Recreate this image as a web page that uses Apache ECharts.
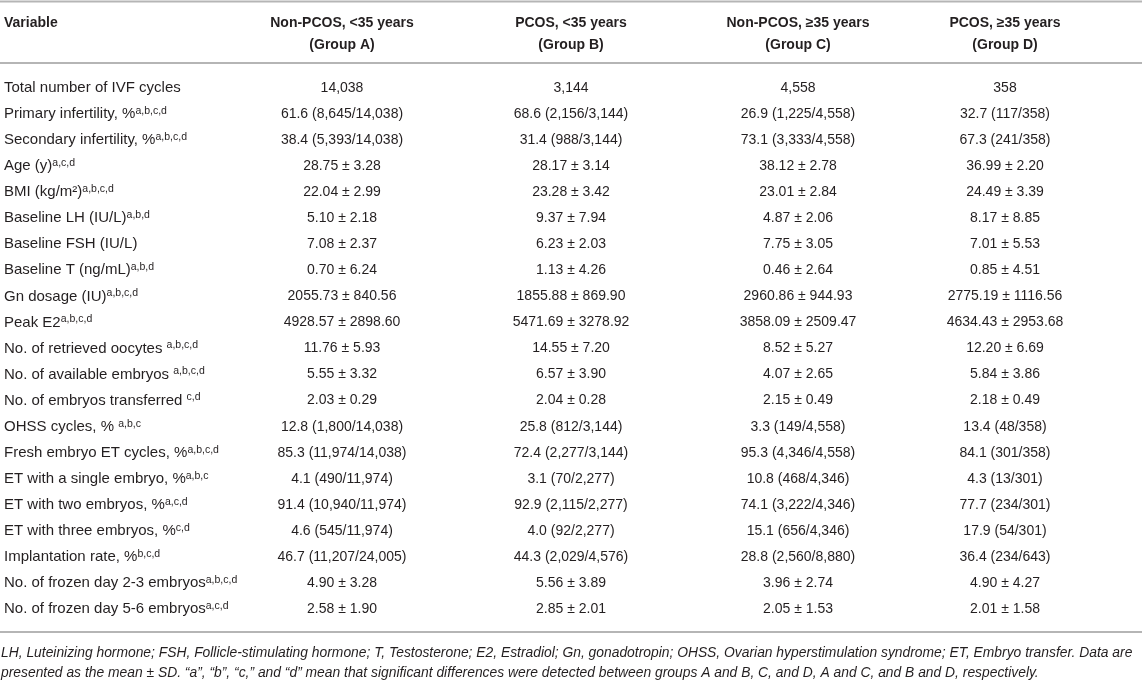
<!DOCTYPE html>
<html><head><meta charset="utf-8">
<script src="https://cdn.jsdelivr.net/npm/echarts@6/dist/echarts.min.js"></script>
<style>html,body{margin:0;padding:0;background:#fff}#c{width:1142px;height:683px}</style>
</head><body><div id="c"></div>
<script>
// ---- data ----
const variables = [
  'Total number of IVF cycles',
  'Primary infertility, %',
  'Secondary infertility, %',
  'Age (y)',
  'BMI (kg/m\u00b2)',
  'Baseline LH (IU/L)',
  'Baseline FSH (IU/L)',
  'Baseline T (ng/mL)',
  'Gn dosage (IU)',
  'Peak E2',
  'No. of retrieved oocytes ',
  'No. of available embryos ',
  'No. of embryos transferred ',
  'OHSS cycles, % ',
  'Fresh embryo ET cycles, %',
  'ET with a single embryo, %',
  'ET with two embryos, %',
  'ET with three embryos, %',
  'Implantation rate, %',
  'No. of frozen day 2-3 embryos',
  'No. of frozen day 5-6 embryos'
];
const superscripts = [
  '', 'a,b,c,d', 'a,b,c,d', 'a,c,d', 'a,b,c,d', 'a,b,d', '', 'a,b,d', 'a,b,c,d', 'a,b,c,d',
  'a,b,c,d', 'a,b,c,d', 'c,d', 'a,b,c', 'a,b,c,d', 'a,b,c', 'a,c,d', 'c,d', 'b,c,d', 'a,b,c,d', 'a,c,d'
];
const groupA = ['14,038','61.6 (8,645/14,038)','38.4 (5,393/14,038)','28.75 \u00b1 3.28','22.04 \u00b1 2.99','5.10 \u00b1 2.18','7.08 \u00b1 2.37','0.70 \u00b1 6.24','2055.73 \u00b1 840.56','4928.57 \u00b1 2898.60','11.76 \u00b1 5.93','5.55 \u00b1 3.32','2.03 \u00b1 0.29','12.8 (1,800/14,038)','85.3 (11,974/14,038)','4.1 (490/11,974)','91.4 (10,940/11,974)','4.6 (545/11,974)','46.7 (11,207/24,005)','4.90 \u00b1 3.28','2.58 \u00b1 1.90'];
const groupB = ['3,144','68.6 (2,156/3,144)','31.4 (988/3,144)','28.17 \u00b1 3.14','23.28 \u00b1 3.42','9.37 \u00b1 7.94','6.23 \u00b1 2.03','1.13 \u00b1 4.26','1855.88 \u00b1 869.90','5471.69 \u00b1 3278.92','14.55 \u00b1 7.20','6.57 \u00b1 3.90','2.04 \u00b1 0.28','25.8 (812/3,144)','72.4 (2,277/3,144)','3.1 (70/2,277)','92.9 (2,115/2,277)','4.0 (92/2,277)','44.3 (2,029/4,576)','5.56 \u00b1 3.89','2.85 \u00b1 2.01'];
const groupC = ['4,558','26.9 (1,225/4,558)','73.1 (3,333/4,558)','38.12 \u00b1 2.78','23.01 \u00b1 2.84','4.87 \u00b1 2.06','7.75 \u00b1 3.05','0.46 \u00b1 2.64','2960.86 \u00b1 944.93','3858.09 \u00b1 2509.47','8.52 \u00b1 5.27','4.07 \u00b1 2.65','2.15 \u00b1 0.49','3.3 (149/4,558)','95.3 (4,346/4,558)','10.8 (468/4,346)','74.1 (3,222/4,346)','15.1 (656/4,346)','28.8 (2,560/8,880)','3.96 \u00b1 2.74','2.05 \u00b1 1.53'];
const groupD = ['358','32.7 (117/358)','67.3 (241/358)','36.99 \u00b1 2.20','24.49 \u00b1 3.39','8.17 \u00b1 8.85','7.01 \u00b1 5.53','0.85 \u00b1 4.51','2775.19 \u00b1 1116.56','4634.43 \u00b1 2953.68','12.20 \u00b1 6.69','5.84 \u00b1 3.86','2.18 \u00b1 0.49','13.4 (48/358)','84.1 (301/358)','4.3 (13/301)','77.7 (234/301)','17.9 (54/301)','36.4 (234/643)','4.90 \u00b1 4.27','2.01 \u00b1 1.58'];
const columnHeaders = ['Variable', 'Non-PCOS, <35 years\n(Group A)', 'PCOS, <35 years\n(Group B)', 'Non-PCOS, \u226535 years\n(Group C)', 'PCOS, \u226535 years\n(Group D)'];
const footnoteLines = [
  'LH, Luteinizing hormone; FSH, Follicle-stimulating hormone; T, Testosterone; E2, Estradiol; Gn, gonadotropin; OHSS, Ovarian hyperstimulation syndrome; ET, Embryo transfer. Data are',
  'presented as the mean \u00b1 SD. \u201ca\u201d, \u201cb\u201d, \u201cc,\u201d and \u201cd\u201d mean that significant differences were detected between groups A and B, C, and D, A and C, and B and D, respectively.'
];

// ---- layout ----
const W = 1142, H = 683;
const colX = [4, 342, 571, 798, 1005];
const FONT = '"Liberation Sans", Arial, Helvetica, sans-serif';
const TEXT = '#231f20';
const RULE = '#b5b5b5';
const rowTop = 75, rowBottom = 61;
const groups = [groupA, groupB, groupC, groupD];

const chart = echarts.init(document.getElementById('c'), null, {renderer: 'canvas'});

function renderRow(params, api) {
  const i = api.value(1);
  const children = [];
  const p0 = api.coord([colX[0], i]);
  children.push({
    type: 'text',
    style: {
      x: p0[0], y: p0[1],
      text: variables[i] + (superscripts[i] ? '{sup|' + superscripts[i] + '}' : ''),
      rich: { sup: { fontSize: 10.5, fontFamily: FONT, fill: TEXT, verticalAlign: 'top', lineHeight: 17 } },
      fontSize: 15, fontFamily: FONT, fill: TEXT, lineHeight: 17,
      align: 'left', verticalAlign: 'middle'
    }
  });
  for (let c = 0; c < 4; c++) {
    const p = api.coord([colX[c + 1], i]);
    children.push({
      type: 'text',
      style: {
        x: p[0], y: p[1], text: groups[c][i],
        fontSize: 14, fontFamily: FONT, fill: TEXT,
        align: 'center', verticalAlign: 'middle'
      }
    });
  }
  return { type: 'group', children };
}

const headerY = 34;
const graphics = [
  { type: 'line', shape: { x1: 0, y1: 1.5, x2: W, y2: 1.5 }, style: { stroke: RULE, lineWidth: 2 } },
  { type: 'line', shape: { x1: 0, y1: 63, x2: W, y2: 63 }, style: { stroke: RULE, lineWidth: 2 } },
  { type: 'line', shape: { x1: 0, y1: 632, x2: W, y2: 632 }, style: { stroke: RULE, lineWidth: 2 } },
  { type: 'text', x: colX[0], y: 23, style: { text: columnHeaders[0], fontSize: 14, fontWeight: 'bold', fontFamily: FONT, fill: TEXT, align: 'left', verticalAlign: 'middle' } }
];
for (let c = 1; c < 5; c++) {
  graphics.push({ type: 'text', x: colX[c], y: headerY, style: { text: columnHeaders[c], fontSize: 14, fontWeight: 'bold', fontFamily: FONT, fill: TEXT, align: 'center', verticalAlign: 'middle', lineHeight: 22 } });
}
footnoteLines.forEach((t, k) => {
  graphics.push({ type: 'text', x: 1, y: 653 + k * 20, style: { text: t, fontSize: 13.85, fontStyle: 'italic', fontFamily: FONT, fill: TEXT, align: 'left', verticalAlign: 'middle' } });
});

chart.setOption({
  animation: false,
  backgroundColor: '#fff',
  grid: { left: 0, right: 0, top: rowTop, bottom: rowBottom },
  xAxis: { type: 'value', min: 0, max: W, show: false },
  yAxis: { type: 'category', data: variables, inverse: true, show: false },
  graphic: graphics,
  series: [{
    type: 'custom',
    renderItem: renderRow,
    data: variables.map((v, i) => [0, i]),
    clip: false
  }]
});
</script>
</body></html>
